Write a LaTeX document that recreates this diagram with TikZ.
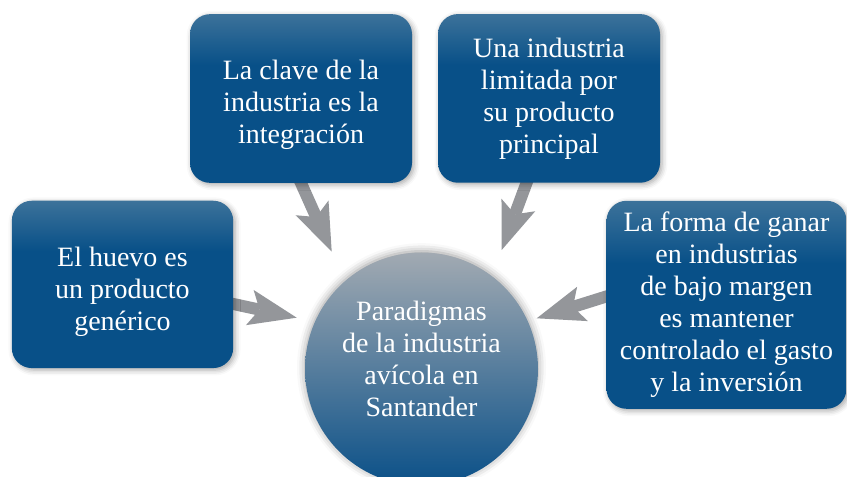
\documentclass[tikz,border=0pt]{standalone}
\usepackage{fontspec}
\setmainfont{Liberation Serif}
\usetikzlibrary{arrows.meta,calc,backgrounds,shadows.blur}

\definecolor{azulosc}{RGB}{8,80,136}
\definecolor{azulclaro}{RGB}{60,114,154}
\definecolor{grisflecha}{RGB}{148,150,154}
\definecolor{circtop}{RGB}{162,170,178}
\definecolor{circmid}{RGB}{88,130,162}
\definecolor{circbot}{RGB}{10,80,136}
\pgfdeclareverticalshading{cajashade}{100bp}{color(0bp)=(azulosc); color(60bp)=(azulosc); color(75bp)=(azulclaro); color(100bp)=(azulclaro)}

\begin{document}
\begin{tikzpicture}[x=0.75pt,y=0.75pt,yscale=-1,
    caja/.style={rounded corners=15pt,shading=cajashade,align=center,text=white,
      font=\fontsize{21}{24}\selectfont,inner sep=0pt,
      blur shadow={shadow xshift=1.5pt,shadow yshift=-1.5pt,shadow blur radius=4pt,shadow opacity=35}},
    centro/.style={circle,minimum size=174.75pt,inner sep=0pt,align=center,text=white,
      font=\fontsize{21}{24}\selectfont,top color=circtop,middle color=circmid,bottom color=circbot,
      blur shadow={shadow xshift=0pt,shadow yshift=1pt,shadow blur radius=6pt,shadow opacity=40}},
    flecha/.style={grisflecha,line width=9pt,shorten <=-6pt,
      -{Stealth[length=36pt,width=27pt,inset=7.5pt,line width=0pt]}}]
  \useasboundingbox (0,0) rectangle (847,477);

  %Shape: Rounded Rect [id:caja1]
  \node [caja,minimum width=166pt,minimum height=125.5pt] (huevo) at (122.5,284.4) {\rule{0pt}{25pt}El huevo es\\un producto\\genérico};
  %Shape: Rounded Rect [id:caja2]
  \node [caja,minimum width=166.5pt,minimum height=126.5pt] (clave) at (301,98.5) {\rule{0pt}{24pt}La clave de la\\industria es la\\integración};
  %Shape: Rounded Rect [id:caja3]
  \node [caja,minimum width=166.5pt,minimum height=126.5pt] (limitada) at (549,98.4) {Una industria\\limitada por\\su producto\\principal};
  %Shape: Rounded Rect [id:caja4]
  \node [caja,minimum width=180pt,minimum height=156pt] (margen) at (726.5,304.8) {La forma de ganar\\en industrias\\de bajo margen\\es mantener\\controlado el gasto\\y la inversión};

  %Shape: Circle [id:centro]
  \node [centro] (paradigmas) at (421.5,369) {Paradigmas\\de la industria\\avícola en\\Santander\rule[-15pt]{0pt}{15pt}};

  %Arrow tips
  \coordinate (p1) at (296.7,317.7);
  \coordinate (p2) at (331.7,251.7);
  \coordinate (p3) at (501.7,250);
  \coordinate (p4) at (536.7,318.3);

  %Straight Lines [id:flechas]
  \begin{scope}[on background layer]
    \draw [flecha] ($(huevo.east)+(0,19.6)$) -- (p1);
    \draw [flecha] (clave.south) -- (p2);
    \draw [flecha] ($(limitada.south)+(-22.5,0)$) -- (p3);
    \draw [flecha] ($(margen.west)+(0,-8.3)$) -- (p4);
  \end{scope}

\end{tikzpicture}
\end{document}
